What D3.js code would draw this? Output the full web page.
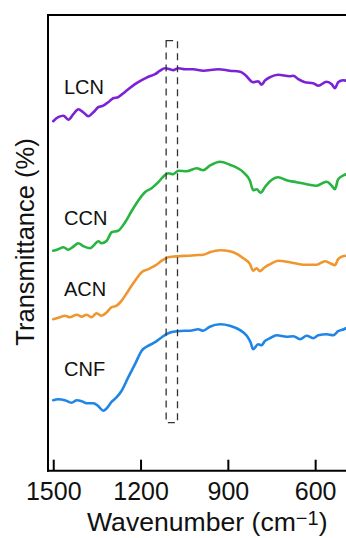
<!DOCTYPE html>
<html>
<head>
<meta charset="utf-8">
<script src="https://cdn.jsdelivr.net/npm/d3@7/dist/d3.min.js"></script>
<style>
  html, body { margin: 0; padding: 0; background: #fff; }
  svg { display: block; font-family: "Liberation Sans", Arial, sans-serif; }
</style>
</head>
<body>
<svg id="chart" width="346" height="538"></svg>
<script>
// FTIR spectra (offset, arbitrary transmittance units)
const lcnWn = [1500,1483,1465,1448,1431,1414,1397,1380,1362,1345,1328,1311,1294,1277,1259,1242,1219,1196,1173,1150,1133,1116,1099,1088,1070,1047,1019,985,933,893,858,841,813,796,784,773,755,727,687,675,658,635,607,589,561,543,532,521,504,494];
const lcnT  = [69.9,70.7,71.0,70.2,71.3,72.3,71.7,70.9,71.7,72.7,73.0,73.7,74.5,74.7,75.5,76.3,77.3,78.1,78.8,79.3,80.0,80.5,80.3,80.1,80.5,80.3,80.3,80.0,80.3,80.0,79.8,79.2,77.7,77.9,77.2,78.0,78.7,79.2,78.9,79.0,78.3,77.7,77.5,77.0,77.8,77.3,76.5,77.7,78.1,78.0];

const ccnWn = [1500,1483,1465,1448,1431,1414,1397,1374,1357,1345,1334,1316,1299,1277,1253,1230,1208,1185,1162,1139,1122,1105,1088,1070,1042,1007,985,962,927,893,847,824,813,801,787,773,755,727,698,664,629,595,561,543,532,521,501,494];
const ccnT  = [44.0,44.3,44.7,44.2,44.8,45.5,44.9,44.5,45.3,45.9,45.5,46.0,47.7,48.0,49.7,52.0,54.0,55.7,56.5,57.7,58.8,59.5,59.3,60.0,59.9,60.5,60.1,61.0,61.8,61.2,59.7,58.0,56.1,56.3,55.6,56.7,57.9,58.7,58.1,57.7,57.3,57.0,57.8,57.0,56.3,58.3,59.1,59.3];

const acnWn = [1500,1477,1460,1442,1419,1402,1385,1368,1351,1334,1316,1299,1282,1265,1242,1219,1196,1173,1150,1127,1105,1070,1036,1013,985,962,927,893,847,824,813,801,790,773,755,727,687,641,595,566,549,532,521,504,494];
const acnT  = [30.3,30.7,31.0,30.7,31.2,30.8,31.2,30.7,31.5,31.0,31.7,32.7,33.0,34.0,36.0,38.0,39.7,40.3,41.0,42.0,42.7,42.9,43.0,43.1,43.2,43.7,44.1,43.9,42.5,41.3,40.0,40.5,39.9,40.7,41.3,42.0,41.7,41.2,41.2,41.9,41.5,41.1,42.3,42.9,43.0];

const cnfWn = [1500,1483,1460,1437,1419,1402,1385,1362,1345,1328,1316,1299,1282,1265,1242,1219,1196,1173,1150,1127,1105,1076,1047,1030,1002,985,962,927,893,858,835,822,813,796,784,773,755,732,698,675,652,629,607,589,561,538,521,501,494];
const cnfT  = [14.1,14.3,14.1,13.6,14.1,13.9,13.5,13.5,12.9,12.0,12.5,13.8,14.7,16.0,18.7,21.3,24.0,25.0,25.7,26.7,27.5,27.9,28.0,28.0,28.3,28.0,28.8,29.3,29.0,28.1,27.0,25.7,24.3,25.3,25.1,25.9,26.5,27.1,26.8,26.9,26.3,27.0,26.5,27.1,27.3,27.1,27.9,28.3,28.5];

const sampleNames  = ["LCN", "CCN", "ACN", "CNF"];
const sampleColors = ["#7b22d8", "#27b540", "#f0962e", "#1f86e6"];
const labelT       = [75.3, 49.2, 35.0, 19.0];

const xTicks = [1500, 1200, 900, 600];
const highlightWn = [1112, 1073];
const highlightT  = [9.6, 86];

const series = [
  { wn: lcnWn, t: lcnT },
  { wn: ccnWn, t: ccnT },
  { wn: acnWn, t: acnT },
  { wn: cnfWn, t: cnfT }
];

const margin = { left: 48, top: 15, right: 0, bottom: 67.3 };
const width = 346, height = 538;
const innerW = width - margin.left - margin.right;
const innerH = height - margin.top - margin.bottom;

const svg = d3.select("#chart");
const g = svg.append("g").attr("transform", `translate(${margin.left},${margin.top})`);

const x = d3.scaleLinear().domain([1518, 494]).range([0, innerW]);
const y = d3.scaleLinear().domain([0, 91.14]).range([innerH, 0]);

// spectra
const line = d3.line()
  .x((d) => x(d[0]))
  .y((d) => y(d[1]))
  .curve(d3.curveMonotoneX);

series.forEach((s, i) => {
  const pts = s.wn.map((w, k) => [w, s.t[k]]);
  g.append("path")
    .datum(pts)
    .attr("fill", "none")
    .attr("stroke", sampleColors[i])
    .attr("stroke-width", 2.6)
    .attr("stroke-linejoin", "round")
    .attr("stroke-linecap", "round")
    .attr("d", line);
  g.append("text")
    .attr("x", 16)
    .attr("y", y(labelT[i]))
    .attr("font-size", 20)
    .attr("fill", "#111")
    .text(sampleNames[i]);
});

// dashed highlight band
g.append("rect")
  .attr("x", x(highlightWn[0]))
  .attr("y", y(highlightT[1]))
  .attr("width", x(highlightWn[1]) - x(highlightWn[0]))
  .attr("height", y(highlightT[0]) - y(highlightT[1]))
  .attr("fill", "none")
  .attr("stroke", "#333")
  .attr("stroke-width", 1.3)
  .attr("stroke-dasharray", "7,5");

// frame: top and left edges
g.append("line")
  .attr("x1", 0).attr("x2", innerW + 4)
  .attr("y1", 0).attr("y2", 0)
  .attr("stroke", "#000").attr("stroke-width", 2);
g.append("line")
  .attr("x1", 0).attr("x2", 0)
  .attr("y1", -1).attr("y2", innerH + 1)
  .attr("stroke", "#000").attr("stroke-width", 2);

// bottom axis, ticks pointing inward
const xAxis = d3.axisBottom(x)
  .tickValues(xTicks)
  .tickSizeInner(-11)
  .tickSizeOuter(0)
  .tickPadding(11.5)
  .tickFormat(d3.format("d"));

const ax = g.append("g")
  .attr("transform", `translate(0,${innerH})`)
  .call(xAxis);
ax.select(".domain").attr("stroke", "#000").attr("stroke-width", 2)
  .attr("d", `M-1,0H${innerW + 4}`);
ax.selectAll(".tick line").attr("stroke", "#000").attr("stroke-width", 2);
ax.selectAll(".tick text")
  .attr("font-size", 25)
  .attr("font-family", "Liberation Sans, Arial, sans-serif")
  .attr("fill", "#111");

// axis titles
const xt = svg.append("text")
  .attr("x", 87)
  .attr("y", 530.7)
  .attr("font-size", 26.6)
  .attr("fill", "#111");
xt.append("tspan").text("Wavenumber (cm");
xt.append("tspan").attr("font-size", 20).attr("dy", -6).text("\u22121");
xt.append("tspan").attr("dy", 6).text(")");

svg.append("text")
  .attr("transform", "translate(33.5,242) rotate(-90)")
  .attr("text-anchor", "middle")
  .attr("font-size", 25.5)
  .attr("fill", "#111")
  .text("Transmittance (%)");
</script>
</body>
</html>
